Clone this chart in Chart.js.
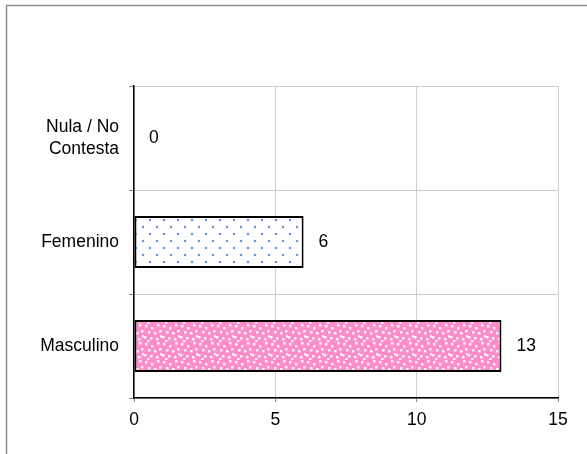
<!DOCTYPE html>
<html>
<head>
<meta charset="utf-8">
<script src="https://cdn.jsdelivr.net/npm/chart.js@4/dist/chart.umd.min.js"></script>
<style>
  html, body { margin: 0; padding: 0; background: #fff; }
  #wrap { width: 587px; height: 454px; position: relative; }
</style>
</head>
<body>
<div id="wrap"><canvas id="chart" width="587" height="454"></canvas></div>
<script>
// datos del gráfico
const categorias = [['Nula / No', 'Contesta'], 'Femenino', 'Masculino'];
const valores = [0, 6, 13];
const ejeMin = 0;
const ejeMax = 15;
const paso = 5;

const FUENTE = { family: '"Liberation Sans", Arial, sans-serif', size: 17.5, lineHeight: 1.25 };

// trama de puntos azules (Femenino)
function tramaPuntos() {
    const c = document.createElement('canvas');
    c.width = 14; c.height = 14;
    const g = c.getContext('2d');
    g.fillStyle = '#ffffff';
    g.fillRect(0, 0, 14, 14);
    g.fillStyle = '#6a96d4';
    [[3, 3], [10, 10]].forEach(([x, y]) => {
        g.beginPath();
        g.arc(x, y, 1.25, 0, Math.PI * 2);
        g.fill();
    });
    return g.createPattern(c, 'repeat');
}

// trama rosa con cuadritos blancos (Masculino)
function tramaRosa() {
    const c = document.createElement('canvas');
    c.width = 18; c.height = 18;
    const g = c.getContext('2d');
    g.fillStyle = '#ff8cca';
    g.fillRect(0, 0, 18, 18);
    g.fillStyle = '#fff4fa';
    [[1, 1], [7, 3], [13, 0], [4, 7], [10, 8], [15, 6], [0, 12], [6, 13], [12, 14], [16, 11], [3, 16]]
        .forEach(([x, y]) => g.fillRect(x, y, 2.5, 2.5));
    return g.createPattern(c, 'repeat');
}

const ctx = document.getElementById('chart').getContext('2d');

// marco gris exterior
const marco = {
    id: 'marco',
    beforeDraw(chart) {
        const g = chart.ctx;
        g.save();
        g.strokeStyle = '#8c8c8c';
        g.lineWidth = 1.5;
        g.beginPath();
        g.moveTo(6.5, 600);
        g.lineTo(6.5, 5.5);
        g.lineTo(700, 5.5);
        g.stroke();
        g.restore();
    }
};

// etiquetas de valor al final de cada barra
const etiquetas = {
    id: 'etiquetas',
    afterDatasetsDraw(chart) {
        const g = chart.ctx;
        const meta = chart.getDatasetMeta(0);
        const xs = chart.scales.x;
        g.save();
        g.font = FUENTE.size + 'px ' + FUENTE.family;
        g.fillStyle = '#000';
        g.textAlign = 'left';
        g.textBaseline = 'middle';
        meta.data.forEach((bar, i) => {
            g.fillText(String(valores[i]), xs.getPixelForValue(valores[i]) + 15, bar.y);
        });
        g.restore();
    }
};

new Chart(ctx, {
    type: 'bar',
    data: {
        labels: categorias,
        datasets: [{
            data: valores,
            backgroundColor: [tramaPuntos(), tramaPuntos(), tramaRosa()],
            borderColor: '#000',
            borderWidth: 2,
            borderSkipped: false,
            categoryPercentage: 1,
            barPercentage: 0.5
        }]
    },
    options: {
        indexAxis: 'y',
        responsive: false,
        animation: false,
        layout: { padding: { top: 86, right: 29, left: 0, bottom: 0 } },
        plugins: {
            legend: { display: false },
            tooltip: { enabled: false }
        },
        scales: {
            x: {
                min: ejeMin,
                max: ejeMax,
                ticks: { stepSize: paso, color: '#000', font: FUENTE, padding: 7 },
                grid: { color: '#d0d0d0', tickColor: '#888', tickLength: 4 },
                border: { color: '#000', width: 1.5, z: 1 },
                afterFit(s) { s.height = 56; }
            },
            y: {
                ticks: { color: '#000', font: FUENTE, padding: 10 },
                grid: { color: '#cccccc', tickColor: '#888', tickLength: 5, offset: true },
                border: { color: '#000', width: 1.5, z: 1 },
                afterFit(s) { s.width = 134; }
            }
        }
    },
    plugins: [marco, etiquetas]
});
</script>
</body>
</html>
